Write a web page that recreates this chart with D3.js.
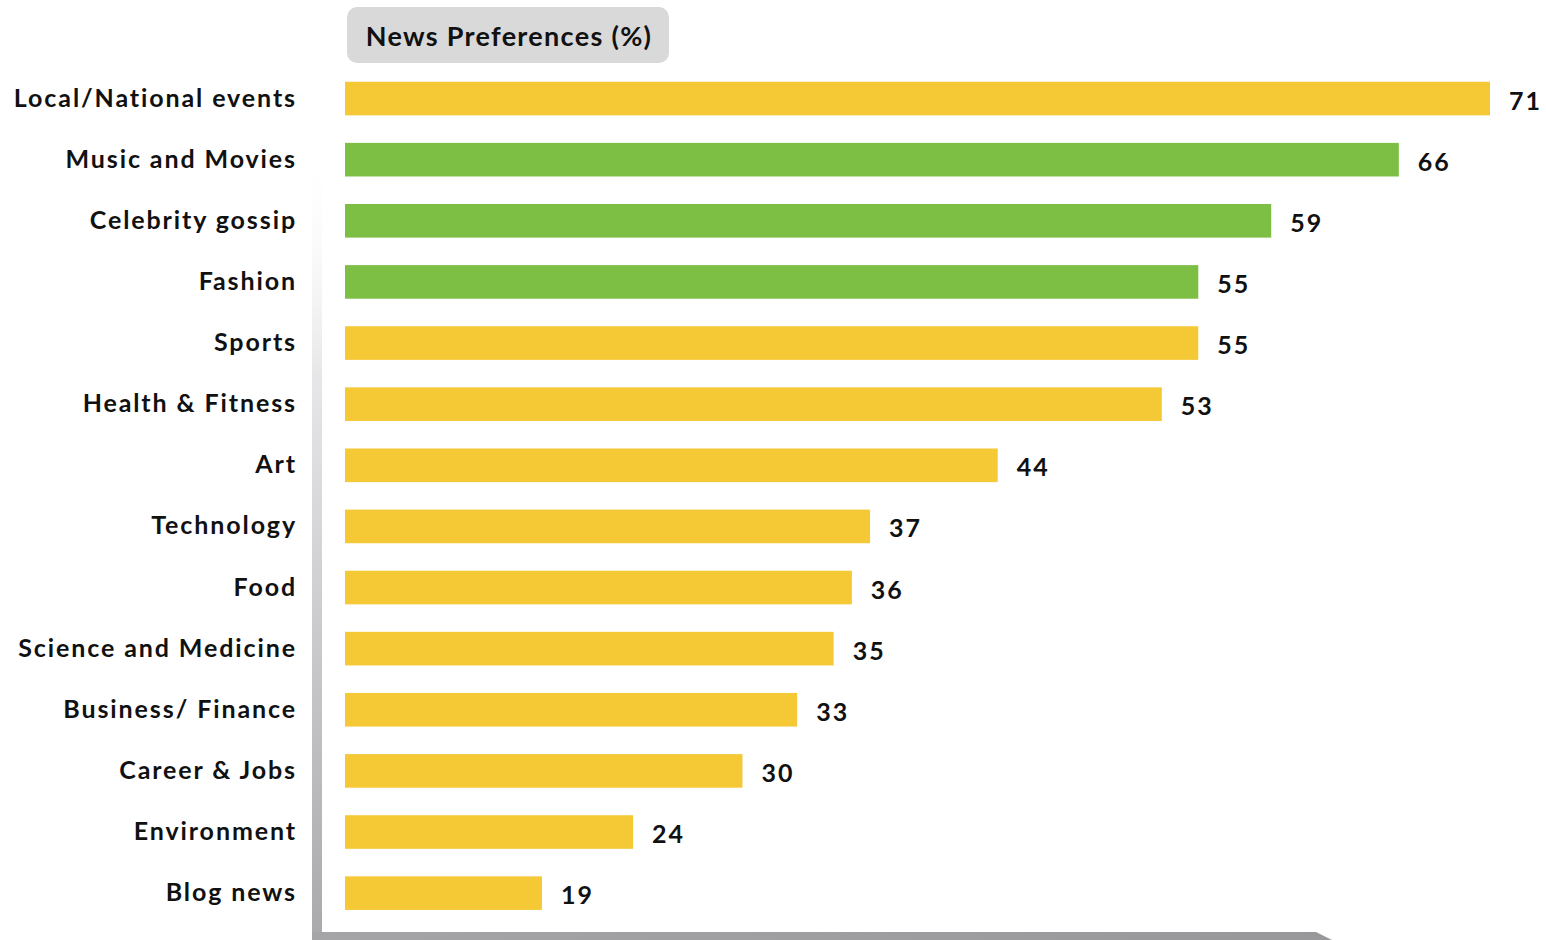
<!DOCTYPE html>
<html><head><meta charset="utf-8">
<script src="https://cdn.jsdelivr.net/npm/d3@7"></script>
<style>html,body{margin:0;padding:0;background:#fff;}svg{display:block;}</style>
</head><body>
<script>
const categories = ["Local/National events","Music and Movies","Celebrity gossip","Fashion","Sports","Health & Fitness","Art","Technology","Food","Science and Medicine","Business/ Finance","Career & Jobs","Environment","Blog news"];
const values = [71,66,59,55,55,53,44,37,36,35,33,30,24,19];
const highlighted = ["Music and Movies","Celebrity gossip","Fashion"];
const title = "News Preferences (%)";

const W = 1546, H = 940;
const svg = d3.select("body").append("svg").attr("width", W).attr("height", H);
const font = "Lato, 'Open Sans', sans-serif";

const x = d3.scaleLinear().domain([8.2, 71]).range([345, 1490]);
const y = d3.scaleBand().domain(categories).range([68, 923.7]).paddingInner(0.45).paddingOuter(0.225);

// frame
const defs = svg.append("defs");
const gl = defs.append("linearGradient").attr("id","gl").attr("x1",0).attr("y1",0).attr("x2",0).attr("y2",1);
gl.append("stop").attr("offset",0).attr("stop-color","#ffffff").attr("stop-opacity",0);
gl.append("stop").attr("offset",0.3).attr("stop-color","#e6e6e8");
gl.append("stop").attr("offset",1).attr("stop-color","#a9a9ab");
svg.append("rect").attr("x",312).attr("y",140).attr("width",10).attr("height",800).attr("fill","url(#gl)");
const gb = defs.append("linearGradient").attr("id","gb").attr("x1",0).attr("y1",0).attr("x2",1).attr("y2",0);
gb.append("stop").attr("offset",0).attr("stop-color","#a5a5a7");
gb.append("stop").attr("offset",1).attr("stop-color","#98989a");
svg.append("path").attr("d","M312,932 L1316,932 L1332,940 L312,940 Z").attr("fill","url(#gb)");

// title
svg.append("rect").attr("x",347).attr("y",7).attr("width",322).attr("height",56).attr("rx",10).attr("fill","#d9d9d9");
svg.append("text").attr("x",509).attr("y",46).attr("text-anchor","middle")
  .attr("font-family",font).attr("font-weight",700).attr("font-size",27).attr("letter-spacing","1.3px")
  .attr("fill","#111").text(title);

// bars
svg.selectAll("rect.bar").data(categories).join("rect").attr("class","bar")
  .attr("x", x(x.domain()[0]))
  .attr("y", d => y(d))
  .attr("width", (d,i) => x(values[i]) - x(x.domain()[0]))
  .attr("height", y.bandwidth())
  .attr("fill", d => highlighted.includes(d) ? "#7dbf45" : "#f5c836");

// value labels
svg.selectAll("text.val").data(categories).join("text").attr("class","val")
  .attr("x", (d,i) => x(values[i]) + 19)
  .attr("y", d => y(d) + y.bandwidth()/2 + 11)
  .attr("font-family",font).attr("font-weight",700).attr("font-size",25).attr("letter-spacing","2px")
  .attr("fill","#111")
  .text((d,i) => values[i]);

// category labels
const axis = d3.axisLeft(y).tickSize(0).tickPadding(0);
const ga = svg.append("g").attr("transform","translate(297,0)").call(axis);
ga.select(".domain").remove();
ga.selectAll("text").attr("font-family",font).attr("font-weight",700).attr("font-size",25)
  .attr("letter-spacing","1.9px").attr("fill","#111").attr("dy","0.32em");
</script>
</body></html>
